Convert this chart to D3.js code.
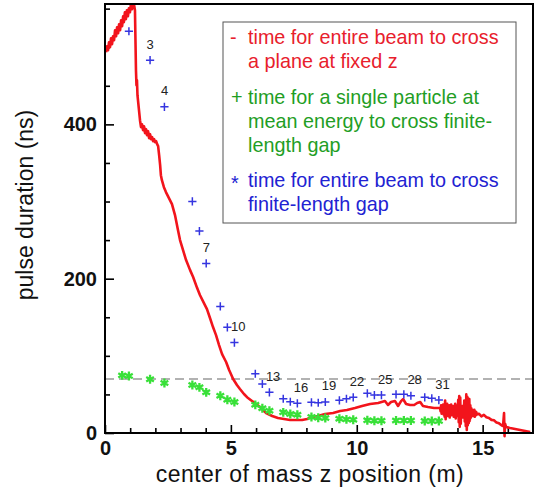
<!DOCTYPE html>
<html>
<head>
<meta charset="utf-8">
<script src="https://cdn.jsdelivr.net/npm/d3@7"></script>
<style>
    body { margin: 0; background: #fff; }
    svg { font-family: "Liberation Sans", Arial, Helvetica, sans-serif; }
</style>
</head>
<body>
<div id="chart"></div>
<script>
// gap centres (m) and gap numbers
const gapZ = [0.68, 0.95, 1.79, 2.36, 3.47, 3.75, 4.02, 4.58, 4.86, 5.14, 5.97, 6.25, 6.53, 7.08, 7.36, 7.64,
    8.20, 8.47, 8.75, 9.31, 9.59, 9.86, 10.42, 10.70, 10.98, 11.56, 11.87, 12.15, 12.70, 12.98, 13.26];
const gapNumber = [1, 2, 3, 4, 5, 6, 7, 8, 9, 10, 11, 12, 13, 14, 15, 16,
    17, 18, 19, 20, 21, 22, 23, 24, 25, 26, 27, 28, 29, 30, 31];

// single particle at mean energy (green *), one value per gap
const singleParticle = [74.7, 73.8, 69.6, 64.8, 62.2, 59.2, 52.7, 48.3, 43.1, 40.2, 36.5, 32.0, 28.9, 26.8, 24.6, 23.7,
    20.7, 19.8, 19.4, 18.5, 17.7, 17.2, 16.5, 15.9, 15.9, 16.2, 16.2, 16.2, 15.5, 15.5, 15.5];

// entire beam across gap (blue +), gap 1 is off scale
const beamGapNumber = [2, 3, 4, 5, 6, 7, 8, 9, 10, 11, 12, 13, 14, 15, 16,
    17, 18, 19, 20, 21, 22, 23, 24, 25, 26, 27, 28, 29, 30, 31];
const beamGap = [520.7, 483.2, 422.7, 300.1, 261.7, 219.8, 164.1, 136.9, 117.2, 76.8, 63.5, 52.7, 44.4, 40.5, 38.5,
    39.8, 39.2, 40.2, 42.4, 44.4, 46.2, 51.4, 49.2, 49.2, 50.1, 50.1, 48.3, 46.2, 44.9, 42.7];

const labeledGaps = [3, 4, 7, 10, 13, 16, 19, 22, 25, 28, 31];

// entire beam across a plane at fixed z (red line)
const planeZ = [0.04, 0.08, 0.12, 0.16, 0.20, 0.24, 0.28, 0.32, 0.36, 0.40, 0.44, 0.48, 0.52, 0.56, 0.60, 0.64,
    0.68, 0.72, 0.75, 0.79, 0.83, 0.87, 0.91, 0.95, 0.99, 1.03, 1.07, 1.11, 1.15,
    1.19, 1.21, 1.23, 1.25, 1.27, 1.29, 1.31, 1.35, 1.39, 1.43, 1.47, 1.51, 1.55, 1.59, 1.63, 1.67, 1.71, 1.75,
    1.79, 1.83, 1.87, 1.91, 1.95, 1.99, 2.03, 2.07, 2.11, 2.15, 2.19, 2.22, 2.26, 2.34, 2.42, 2.50, 2.58, 2.66,
    2.78, 2.90, 2.98, 3.10, 3.22, 3.38, 3.50, 3.66, 3.77, 3.93, 4.05, 4.17, 4.29, 4.41, 4.53, 4.65, 4.81, 4.93,
    5.09, 5.24, 5.36, 5.52, 5.68, 5.84, 6.00, 6.16, 6.40, 6.64, 6.87, 7.11, 7.35, 7.59, 7.83, 8.03, 8.22, 8.46,
    8.74, 9.06, 9.34, 9.61, 9.93, 10.21, 10.53, 10.85, 11.12, 11.24, 11.36, 11.52, 11.64, 11.76, 11.84, 11.96,
    12.12, 12.28, 12.40, 12.52, 12.63, 12.83, 13.07,
    13.31, 13.33, 13.35, 13.37, 13.39, 13.41, 13.43, 13.45, 13.47, 13.49, 13.51, 13.53, 13.55, 13.57, 13.59, 13.61,
    13.63, 13.65, 13.67, 13.69, 13.71, 13.73, 13.75, 13.77, 13.79, 13.81, 13.83, 13.85, 13.87, 13.89, 13.91, 13.93,
    13.95, 13.97, 13.99, 14.01, 14.03, 14.05, 14.07, 14.09, 14.11, 14.13, 14.15, 14.17, 14.19, 14.21, 14.23, 14.25,
    14.27, 14.29, 14.31, 14.33, 14.35, 14.37, 14.39, 14.41, 14.43, 14.45, 14.47, 14.49, 14.51, 14.53, 14.55, 14.57,
    14.59, 14.61, 14.63, 14.65, 14.67, 14.69, 14.71, 14.73, 14.75, 14.77,
    14.85, 14.95, 15.05, 15.15, 15.25, 15.35, 15.45, 15.55, 15.65, 15.75, 15.81, 15.85, 15.87, 15.89, 15.93,
    16.09, 16.29, 16.49, 16.69, 16.89];
const planeT = [493.5, 501.3, 496.1, 506.5, 500.0, 511.6, 503.9, 514.2, 509.1, 522.0, 514.2, 525.9, 518.1, 529.8, 522.0, 535.0,
    527.2, 540.1, 532.4, 545.3, 536.3, 547.9, 540.1, 550.5, 545.3, 555.7, 549.2, 558.3, 555.7,
    547.9, 509.0, 470.2, 450.8, 457.2, 437.8, 431.3, 418.4, 405.4, 396.4, 400.2, 392.5, 397.6, 388.6, 393.8, 386.0, 391.2, 382.1,
    387.3, 380.8, 383.4, 378.2, 380.8, 376.9, 378.2, 374.3, 371.8, 360.1, 347.1, 334.2, 327.7, 318.6, 312.2, 307.0, 301.8, 296.6,
    282.4, 262.9, 250.0, 237.0, 224.1, 211.1, 202.1, 187.8, 178.8, 168.4, 160.6, 149.0, 137.3, 126.9, 114.0, 102.3, 92.0, 81.6,
    70.0, 62.2, 57.0, 50.5, 45.3, 41.4, 37.6, 33.7, 25.9, 22.0, 19.4, 18.1, 16.8, 16.8, 16.8, 18.1, 20.7, 22.0,
    24.6, 25.9, 28.5, 29.8, 32.4, 35.0, 37.6, 38.9, 41.4, 36.3, 40.2, 41.4, 35.0, 41.4, 44.0, 37.6,
    36.3, 36.3, 38.9, 40.2, 35.0, 33.7, 32.4,
    32.4, 28.0, 36.0, 25.0, 34.0, 27.0, 37.0, 24.0, 33.0, 21.0, 42.0, 18.0, 35.0, 26.0, 38.0, 22.0,
    31.0, 27.0, 36.0, 20.0, 33.0, 28.0, 37.0, 23.0, 31.0, 26.0, 35.0, 21.0, 30.0, 27.0, 38.0, 19.0,
    32.0, 25.0, 36.0, 22.0, 43.0, 14.0, 48.0, 8.0, 46.0, 12.0, 33.0, 22.0, 35.0, 20.0, 31.0, 26.0,
    42.0, 15.0, 38.0, 9.0, 50.0, 4.0, 47.0, 10.0, 45.0, 13.0, 44.0, 16.0, 36.0, 20.0, 32.0, 23.0,
    30.0, 22.0, 29.0, 24.0, 30.0, 21.0, 28.0, 23.0, 27.0, 24.0,
    25.0, 21.5, 23.5, 20.5, 19.5, 17.0, 16.5, 13.5, 12.5, 10.0, 9.1, 25.9, -4.0, 12.0, 7.8,
    6.5, 5.2, 3.9, 2.6, 1.3];

const referenceLevel = 70;

const xMajorTicks = [0, 5, 10, 15];
const xMinorTicks = [1, 2, 3, 4, 6, 7, 8, 9, 11, 12, 13, 14, 16];
const yMajorTicks = [0, 200, 400];
const yMinorTicks = [50, 100, 150, 250, 300, 350, 450, 500, 550];

const legendEntries = [
    { symbol: "-", color: "#e8202c", lines: ["time for entire beam to cross", "a plane at fixed z"] },
    { symbol: "+", color: "#1f9e25", lines: ["time for a single particle at", "mean energy to cross finite-", "length gap"] },
    { symbol: "*", color: "#2222d2", lines: ["time for entire beam to cross", "finite-length gap"] }
];

const margin = { top: 4, right: 2, bottom: 58, left: 105 };
const width = 535 - margin.left - margin.right;
const height = 491 - margin.top - margin.bottom;

const svg = d3.select("#chart")
    .append("svg")
    .attr("width", 535)
    .attr("height", 491)
    .append("g")
    .attr("transform", `translate(${margin.left}, ${margin.top})`);

const xScale = d3.scaleLinear().domain([0, 17]).range([0, width]);
const yScale = d3.scaleLinear().domain([0, 556]).range([height, 0]);

svg.append("clipPath")
    .attr("id", "plot-clip")
    .append("rect")
    .attr("x", 0)
    .attr("y", 0)
    .attr("width", width)
    .attr("height", height + 6);

// ticks point inwards
const xMinorAxis = d3.axisBottom(xScale).tickValues(xMinorTicks).tickSize(-5).tickFormat("");
const xMajorAxis = d3.axisBottom(xScale).tickValues(xMajorTicks).tickSize(-8).tickPadding(8).tickFormat(d3.format("d"));
const yMinorAxis = d3.axisLeft(yScale).tickValues(yMinorTicks).tickSize(-5).tickFormat("");
const yMajorAxis = d3.axisLeft(yScale).tickValues(yMajorTicks).tickSize(-9).tickPadding(8).tickFormat(d3.format("d"));

[xMinorAxis, xMajorAxis].forEach(ax => {
    svg.append("g")
        .attr("class", "x-axis")
        .attr("transform", `translate(0, ${height})`)
        .call(ax);
});
[yMinorAxis, yMajorAxis].forEach(ax => {
    svg.append("g")
        .attr("class", "y-axis")
        .call(ax);
});

svg.selectAll(".x-axis, .y-axis").select(".domain").remove();
svg.selectAll(".x-axis line, .y-axis line")
    .attr("stroke", "#000")
    .attr("stroke-width", 1.6);
svg.selectAll(".x-axis text, .y-axis text")
    .style("font-size", "20px")
    .style("font-weight", "bold")
    .style("fill", "#111");

// dashed reference line
svg.append("line")
    .attr("x1", 0)
    .attr("x2", width)
    .attr("y1", yScale(referenceLevel))
    .attr("y2", yScale(referenceLevel))
    .attr("stroke", "#999")
    .attr("stroke-width", 1.3)
    .attr("stroke-dasharray", "9,5");

// red line
const planeData = planeZ.map((z, i) => ({ z: z, t: planeT[i] }));
svg.append("path")
    .datum(planeData)
    .attr("clip-path", "url(#plot-clip)")
    .attr("fill", "none")
    .attr("stroke", "#f2141c")
    .attr("stroke-width", 2.6)
    .attr("stroke-linejoin", "round")
    .attr("d", d3.line().x(d => xScale(d.z)).y(d => yScale(d.t)));

// green stars
const starSymbol = d3.symbol().type(d3.symbolAsterisk).size(55);
svg.selectAll(".star")
    .data(gapZ.map((z, i) => ({ z: z, t: singleParticle[i] })))
    .enter()
    .append("path")
    .attr("class", "star")
    .attr("transform", d => `translate(${xScale(d.z)}, ${yScale(d.t)})`)
    .attr("d", starSymbol)
    .attr("fill", "none")
    .attr("stroke", "#38e038")
    .attr("stroke-width", 2.3);

// blue pluses
const beamData = beamGapNumber.map((n, i) => ({ n: n, z: gapZ[gapNumber.indexOf(n)], t: beamGap[i] }));
const plusSymbol = d3.symbol().type(d3.symbolPlus).size(24);
svg.selectAll(".plus")
    .data(beamData)
    .enter()
    .append("path")
    .attr("class", "plus")
    .attr("transform", d => `translate(${xScale(d.z)}, ${yScale(d.t)})`)
    .attr("d", plusSymbol)
    .attr("fill", "none")
    .attr("stroke", "#3535e0")
    .attr("stroke-width", 1.5);

// gap number labels
svg.selectAll(".gap-label")
    .data(beamData.filter(d => labeledGaps.includes(d.n)))
    .enter()
    .append("text")
    .attr("class", "gap-label")
    .attr("x", d => xScale(d.z) - 3.5)
    .attr("y", d => yScale(d.t) - 11.5)
    .style("font-size", "13px")
    .style("fill", "#222")
    .text(d => d.n);

// frame
svg.append("rect")
    .attr("width", width)
    .attr("height", height)
    .attr("fill", "none")
    .attr("stroke", "#000")
    .attr("stroke-width", 2);

// axis titles
svg.append("text")
    .attr("x", 310 - margin.left)
    .attr("y", 482 - margin.top)
    .attr("text-anchor", "middle")
    .style("font-size", "23px")
    .style("letter-spacing", "0.45px")
    .style("fill", "#111")
    .text("center of mass z position (m)");

svg.append("text")
    .attr("transform", `translate(${33 - margin.left}, ${205 - margin.top}) rotate(-90)`)
    .attr("text-anchor", "middle")
    .style("font-size", "23px")
    .style("fill", "#111")
    .text("pulse duration (ns)");

// legend
const legend = svg.append("g")
    .attr("class", "legend")
    .attr("transform", `translate(${223 - margin.left}, ${22 - margin.top})`);

legend.append("rect")
    .attr("width", 293)
    .attr("height", 201)
    .attr("fill", "#fff")
    .attr("stroke", "#555")
    .attr("stroke-width", 1);

let lineY = 22;
legendEntries.forEach(entry => {
    legend.append("text")
        .attr("x", entry.symbol === "-" ? 7 : 8)
        .attr("y", lineY + (entry.symbol === "*" ? 3 : 0))
        .style("font-size", "19.8px")
        .style("fill", entry.color)
        .text(entry.symbol);
    entry.lines.forEach(line => {
        legend.append("text")
            .attr("x", 25)
            .attr("y", lineY)
            .style("font-size", "19.8px")
            .style("fill", entry.color)
            .text(line);
        lineY += 24;
    });
    lineY += 11.5;
});
</script>
</body>
</html>
